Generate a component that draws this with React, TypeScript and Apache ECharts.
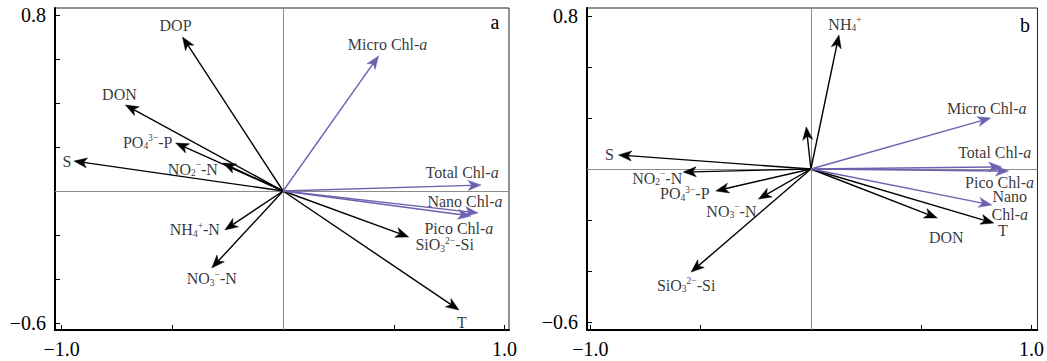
import React, { useEffect, useRef } from "react";
import * as echarts from "echarts";

// ---------- Panel a ----------
const envLabelsA = [
  "DOP",
  "DON",
  "PO{s0|4}{p|3−}-P",
  "NO{s0|2}{p|−}-N",
  "S",
  "NH{s0|4}{p|+}-N",
  "NO{s0|3}{p|−}-N",
  "SiO{s0|3}{p|2−}-Si",
  "T",
];
const envXA = [-0.454, -0.712, -0.485, -0.272, -0.944, -0.263, -0.322, 0.567, 0.794];
const envYA = [0.7, 0.391, 0.218, 0.127, 0.136, -0.177, -0.35, -0.209, -0.541];
const chlLabelsA = ["Micro Chl-{i|a}", "Total Chl-{i|a}", "Nano Chl-{i|a}", "Pico Chl-{i|a}"];
const chlXA = [0.431, 0.894, 0.88, 0.848];
const chlYA = [0.614, 0.027, -0.1, -0.114];

// ---------- Panel b ----------
const envLabelsB = [
  "NH{s0|4}{p|+}",
  "",
  "S",
  "NO{s0|2}{p|−}-N",
  "PO{s0|4}{p|3−}-P",
  "NO{s0|3}{p|−}-N",
  "SiO{s0|3}{p|2−}-Si",
  "DON",
  "T",
];
const envXB = [0.127, -0.021, -0.872, -0.579, -0.431, -0.238, -0.543, 0.573, 0.829];
const envYB = [0.525, 0.165, 0.055, -0.012, -0.086, -0.118, -0.404, -0.192, -0.212];
const chlLabelsB = ["Micro Chl-{i|a}", "Total Chl-{i|a}", "Pico Chl-{i|a}", "Nano\nChl-{i|a}"];
const chlXB = [0.815, 0.865, 0.896, 0.82];
const chlYB = [0.2, 0.008, -0.008, -0.141];

// ---------- Axes ----------
const xTicks = [-1, -0.5, 0, 0.5, 1];
const xTickLabels = [-1, 1];
const yTicksA = [-0.6, -0.4, -0.2, 0, 0.2, 0.4, 0.6, 0.8];
const yTickLabelsA = [-0.6, 0.8];
const yTicksB = [-0.6, -0.4, -0.2, 0, 0.2, 0.4, 0.6];
const yTickLabelsB = [-0.6, 0.6];
const yTickTextB = ["−0.6", "0.8"];
const panelLetters = ["a", "b"];

// ---------- Label placement (pixel offsets from arrow tips) ----------
const envOffA = [[-7, -12], [-6, -10], [-28, -1], [-30, 6], [-7, 0], [-30, 0], [0, 11], [36, 8], [3, 13]];
const chlOffA = [[9, -11], [-19, -13], [-13, -11], [-12, 12]];
const envOffB = [[6, -11], [0, 0], [-9, 0], [-26, 6], [-31, 3], [-27, 12], [-5, 13], [9, 20], [9, 7]];
const chlOffB = [[-4, -9], [-7, -14], [-9, 11], [18, 1]];

const FONT = '"Liberation Serif", "Times New Roman", serif';
const BLACK = "#000000";
const PURPLE = "#6a62b0";
const GRAY = "#8c8c8c";

const rich: any = {
  s0: { fontFamily: FONT, fontSize: 9.5, height: 10, lineHeight: 10, verticalAlign: "bottom", color: BLACK },
  p: { fontFamily: FONT, fontSize: 9.5, height: 10, lineHeight: 10, verticalAlign: "top", color: BLACK },
  i: { fontFamily: FONT, fontSize: 16, fontStyle: "italic", color: BLACK },
};

const fmtNum = (v: number) => (v < 0 ? "−" : "") + Math.abs(v).toFixed(1);

function arrowSeries(g: number, xs: number[], ys: number[], color: string) {
  return {
    type: "custom",
    xAxisIndex: g,
    yAxisIndex: g,
    silent: true,
    clip: false,
    z: 3,
    data: xs.map((x, i) => [x, ys[i]]),
    renderItem: (_params: any, api: any) => {
      const o = api.coord([0, 0]);
      const p = api.coord([api.value(0), api.value(1)]);
      const ang = Math.atan2(p[1] - o[1], p[0] - o[0]);
      const ux = Math.cos(ang);
      const uy = Math.sin(ang);
      const nx = -uy;
      const ny = ux;
      const L = 13;
      const W = 5;
      const N = 9.5;
      const bx = p[0] - ux * L;
      const by = p[1] - uy * L;
      const mx = p[0] - ux * N;
      const my = p[1] - uy * N;
      return {
        type: "group",
        children: [
          {
            type: "line",
            shape: { x1: o[0], y1: o[1], x2: mx, y2: my },
            style: { stroke: color, lineWidth: 1.4 },
          },
          {
            type: "polygon",
            shape: {
              points: [
                [p[0], p[1]],
                [bx + nx * W, by + ny * W],
                [mx, my],
                [bx - nx * W, by - ny * W],
              ],
            },
            style: { fill: color, stroke: color, lineWidth: 0.5 },
          },
        ],
      };
    },
  };
}

function labelSeries(g: number, labels: string[], xs: number[], ys: number[], offs: number[][], withLines: boolean) {
  const s: any = {
    type: "scatter",
    xAxisIndex: g,
    yAxisIndex: g,
    symbolSize: 1,
    silent: true,
    z: 4,
    itemStyle: { color: "transparent" },
    data: labels.map((t, i) => ({ value: [xs[i], ys[i]], name: t, label: { offset: offs[i] } })),
    label: {
      show: true,
      position: "inside",
      formatter: (p: any) => p.name,
      fontFamily: FONT,
      fontSize: 16,
      lineHeight: 18,
      color: BLACK,
      align: "center",
      verticalAlign: "middle",
      rich,
    },
  };
  if (withLines) {
    s.markLine = {
      silent: true,
      z: 1,
      symbol: ["none", "none"],
      label: { show: false },
      lineStyle: { color: GRAY, width: 1, type: "solid" },
      emphasis: { disabled: true },
      data: [{ xAxis: 0 }, { yAxis: 0 }],
    };
  }
  return s;
}

function xAxisCfg(g: number, min: number, max: number) {
  return {
    type: "value",
    gridIndex: g,
    min,
    max,
    position: "bottom",
    axisLine: { show: true, onZero: false, lineStyle: { color: BLACK, width: 2 } },
    axisTick: { show: true, inside: true, length: 5, customValues: xTicks, lineStyle: { color: BLACK, width: 1 } },
    axisLabel: {
      show: true,
      customValues: xTickLabels,
      formatter: (v: number) => fmtNum(v),
      fontFamily: FONT,
      fontSize: 20,
      color: BLACK,
      margin: 9,
    },
    splitLine: { show: false },
  };
}

function yAxisCfg(g: number, min: number, max: number, ticks: number[], labels: number[], fmt: (v: number) => string) {
  return {
    type: "value",
    gridIndex: g,
    min,
    max,
    position: "left",
    axisLine: { show: true, onZero: false, lineStyle: { color: BLACK, width: 2 } },
    axisTick: { show: true, inside: true, length: 5, customValues: ticks, lineStyle: { color: BLACK, width: 1 } },
    axisLabel: {
      show: true,
      customValues: labels,
      formatter: fmt,
      fontFamily: FONT,
      fontSize: 20,
      color: BLACK,
      margin: 9,
    },
    splitLine: { show: false },
  };
}

export default function App() {
  const ref = useRef<HTMLDivElement>(null);
  useEffect(() => {
    document.body.style.margin = "0";
    if (!ref.current) return;
    const chart = echarts.init(ref.current, undefined, { renderer: "svg" });
    const option: any = {
      animation: false,
      backgroundColor: "#ffffff",
      grid: [
        { left: 55, top: 8, width: 454, height: 322, show: true, borderColor: "#222", borderWidth: 1, backgroundColor: "transparent" },
        { left: 587, top: 8, width: 454, height: 322, show: true, borderColor: "#222", borderWidth: 1, backgroundColor: "transparent" },
      ],
      xAxis: [xAxisCfg(0, -1.03, 1.02), xAxisCfg(1, -1.015, 1.027)],
      yAxis: [
        yAxisCfg(0, -0.632, 0.832, yTicksA, yTickLabelsA, (v: number) => fmtNum(v)),
        yAxisCfg(1, -0.631, 0.631, yTicksB, yTickLabelsB, (v: number) => (v < 0 ? yTickTextB[0] : yTickTextB[1])),
      ],
      series: [
        labelSeries(0, envLabelsA, envXA, envYA, envOffA, true),
        labelSeries(0, chlLabelsA, chlXA, chlYA, chlOffA, false),
        arrowSeries(0, envXA, envYA, BLACK),
        arrowSeries(0, chlXA, chlYA, PURPLE),
        labelSeries(1, envLabelsB, envXB, envYB, envOffB, true),
        labelSeries(1, chlLabelsB, chlXB, chlYB, chlOffB, false),
        arrowSeries(1, envXB, envYB, BLACK),
        arrowSeries(1, chlXB, chlYB, PURPLE),
      ],
      graphic: [
        { type: "text", x: 495, y: 22, style: { text: panelLetters[0], fontFamily: FONT, fontSize: 20, fill: BLACK, align: "center", verticalAlign: "middle" } },
        { type: "text", x: 1025, y: 25, style: { text: panelLetters[1], fontFamily: FONT, fontSize: 20, fill: BLACK, align: "center", verticalAlign: "middle" } },
      ],
    };
    chart.setOption(option);
    return () => chart.dispose();
  }, []);
  return <div ref={ref} style={{ width: 1047, height: 361 }} />;
}
